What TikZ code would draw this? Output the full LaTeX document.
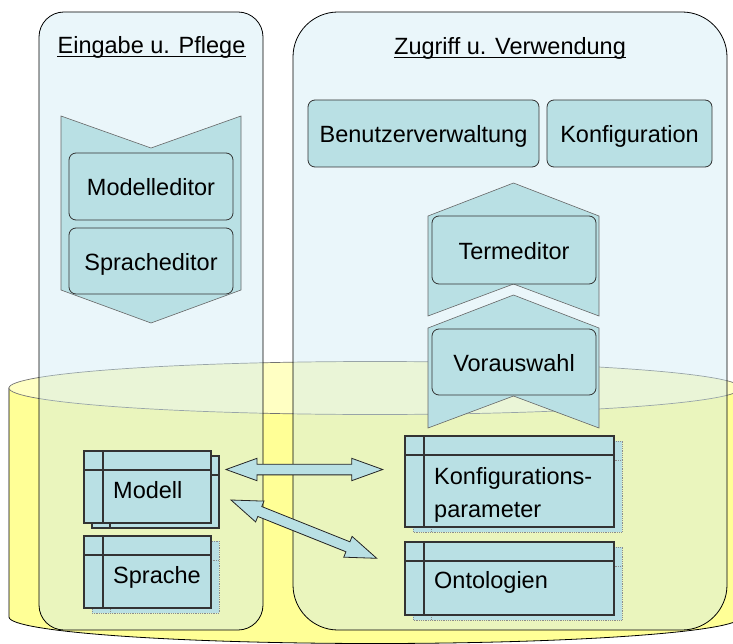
\documentclass[tikz,border=0pt]{standalone}
\usepackage{fontspec}
\setmainfont{Liberation Sans}
\usetikzlibrary{calc}
\definecolor{boxteal}{RGB}{185,224,228}
\definecolor{panelblue}{RGB}{205,233,243}
\definecolor{cylyellow}{RGB}{255,255,150}
\definecolor{cyltop}{RGB}{255,255,195}
\tikzset{
  panel/.style={draw=black, line width=0.8pt, fill=panelblue, fill opacity=0.42},
  chevron/.style={draw=black!60, line width=0.6pt, fill=boxteal},
  box/.style={draw=black!80, line width=0.8pt, fill=boxteal, rounded corners=7pt, inner sep=0pt, text height=18pt, text depth=0pt},
  dbmain/.style={draw=black!80, line width=1.4pt, fill=boxteal},
  dbback/.style={draw=black!80, line width=1.1pt, fill=boxteal},
  dbdot/.style={draw=black!45, line width=0.8pt, densely dotted, fill=boxteal},
  dbtext/.style={anchor=base west, inner sep=0pt, align=left},
  title/.style={anchor=base, inner sep=0pt},
  linkarrow/.style={draw=black!85, line width=0.8pt, fill=boxteal, line join=miter}
}
% table shape: back sheet, front sheet, header line and key column
\def\dbtable[#1](#2,#3)(#4,#5){
  \draw[#1] (#2+8,#3+5) rectangle (#4+8,#5+5);
  \draw[#1] (#2+26,#3+5) -- (#2+26,#5+5);
  \draw[#1] (#2+8,#3+24) -- (#4+8,#3+24);
  \draw[dbmain] (#2,#3) rectangle (#4,#5);
  \draw[dbmain] (#2+19,#3) -- (#2+19,#5);
  \draw[dbmain] (#2,#3+19) -- (#4,#3+19);
}
% block arrow with two heads between two named points
\def\blockarrow(#1)(#2){
  \coordinate (#1-hb) at ($(#1)!31pt!(#2)$);
  \coordinate (#2-hb) at ($(#2)!31pt!(#1)$);
  \draw[linkarrow] (#1) -- ($(#1-hb)!11.2pt!90:(#2)$) -- ($(#1-hb)!5.35pt!90:(#2)$)
    -- ($(#2-hb)!5.35pt!-90:(#1)$) -- ($(#2-hb)!11.2pt!-90:(#1)$) -- (#2)
    -- ($(#2-hb)!11.2pt!90:(#1)$) -- ($(#2-hb)!5.35pt!90:(#1)$)
    -- ($(#1-hb)!5.35pt!-90:(#2)$) -- ($(#1-hb)!11.2pt!-90:(#2)$) -- cycle;
}

\begin{document}
\begin{tikzpicture}[x=1pt, y=-1pt, every node/.style={font=\fontsize{23.5}{33}\selectfont}]
		%%%%% START %%%%%
		\useasboundingbox (0,0) rectangle (733,644);
		\clip (0,0) rectangle (733,644);
		
		% database
		\draw[fill=cylyellow, line width=0.8pt] (9,388) -- (9,617) arc[start angle=180, end angle=360, x radius=366pt, y radius=26.5pt] -- (741,388) -- cycle;
		\draw[draw=black!55, line width=0.7pt, fill=cyltop] (375,388) ellipse[x radius=366pt, y radius=26.5pt];
		
		% panels
		\draw[panel, rounded corners=25pt] (39,12) rectangle (263,630);
		\draw[panel, rounded corners=45pt] (293,12) rectangle (727,630);
		\node[title] (eingabe) at (151.5,53.3) {Eingabe u. Pflege};
		\draw[line width=1pt] ([yshift=-3pt]eingabe.base west) -- ([yshift=-3pt]eingabe.base east);
		\node[title] (zugriff) at (510,54.3) {Zugriff u. Verwendung};
		\draw[line width=1pt] ([yshift=-3pt]zugriff.base west) -- ([yshift=-3pt]zugriff.base east);
		
		% left side
		\draw[chevron] (61,116) -- (151,148) -- (241,116) -- (241,290) -- (151,323) -- (61,290) -- cycle;
		\node[box, minimum width=164pt, minimum height=67pt] (modelleditor) at (151,186.5) {Modelleditor};
		\node[box, minimum width=164pt, minimum height=66pt] (spracheditor) at (151,261) {Spracheditor};
		
		% right side
		\node[box, minimum width=231pt, minimum height=67pt] (benutzer) at (423.5,133.5) {Benutzerverwaltung};
		\node[box, minimum width=165pt, minimum height=67pt] (konfig) at (629.5,133.5) {Konfiguration};
		
		\draw[chevron] (428,216) -- (513.5,183) -- (599,216) -- (599,316) -- (513.5,284) -- (428,316) -- cycle;
		\node[box, minimum width=164pt, minimum height=68pt] (termeditor) at (514,250) {Termeditor};
		\draw[chevron] (428,328) -- (513.5,295) -- (599,328) -- (599,428) -- (513.5,396) -- (428,428) -- cycle;
		\node[box, minimum width=164pt, minimum height=66pt] (vorauswahl) at (514,362) {Vorauswahl};
		
		% tables
		\dbtable[dbback](84,451)(211,523)
		\node[dbtext] (modell) at (113,498) {Modell};
		\dbtable[dbdot](84,536)(211,608)
		\node[dbtext] (sprache) at (113,583) {Sprache};
		\dbtable[dbdot](405,436)(614,527)
		\node[dbtext] (konfparam) at (434,517) {Konfigurations-\\parameter};
		\dbtable[dbdot](405,542)(614,615)
		\node[dbtext] (ontologien) at (434,588) {Ontologien};
		
		% links
		\coordinate (modellA) at (226,469.5);
		\coordinate (konfparamA) at (382.7,469.5);
		\coordinate (modellB) at (231,500);
		\coordinate (ontologienB) at (376.7,558.3);
		\blockarrow(modellA)(konfparamA)
		\blockarrow(modellB)(ontologienB)
		
		%%%%% END %%%%%
	\end{tikzpicture}
\end{document}
